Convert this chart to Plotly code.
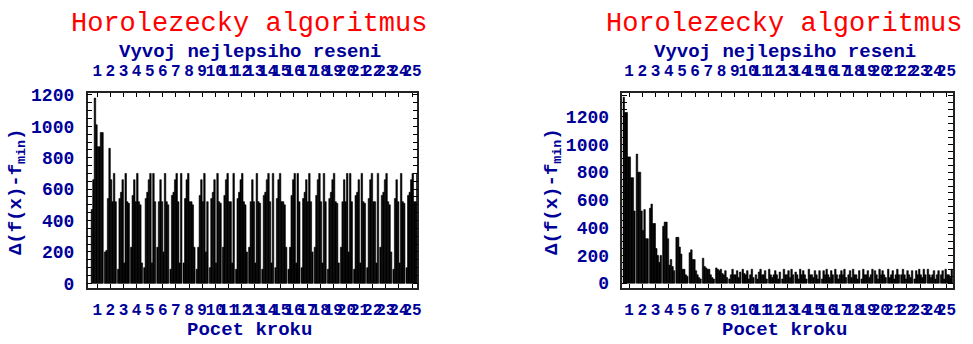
import plotly.graph_objects as go

steps = list(range(1, 26))
tick_labels = [str(s) for s in steps]

# left chart: 8 bars per step (series s1..s8)
left_s1 = [470,200,90,230,100,230,90,130,90,100,230,90,230,90,100,90,100,230,90,230,90,100,230,90,100]
left_s2 = [660,210,540,560,540,520,560,540,230,540,560,540,520,560,540,230,540,560,540,520,560,540,560,540,560]
left_s3 = [1180,540,580,660,580,660,580,660,560,580,660,580,660,580,660,560,580,660,580,660,580,660,580,660,580]
left_s4 = [1010,860,660,520,660,520,660,700,660,660,700,660,520,660,700,660,660,700,660,520,660,700,660,520,660]
left_s5 = [870,660,130,700,700,200,700,520,520,130,520,700,130,700,520,700,520,520,700,700,130,520,700,130,700]
left_s6 = [870,520,700,520,130,700,520,520,700,700,520,520,700,520,520,130,700,130,520,200,700,520,520,700,520]
left_s7 = [960,700,520,500,700,520,130,500,200,520,130,500,520,130,500,700,520,700,510,700,520,130,500,520,520]
left_s8 = [960,520,510,130,520,500,700,230,520,510,700,200,510,700,230,520,200,520,130,520,510,700,200,510,700]

# right chart
right_s1 = [1340,930,540,410,330,220,180,110,30,100,60,100,30,80,100,30,100,60,30,90,100,60,30,100,60]
right_s2 = [1230,800,570,440,330,240,120,100,60,70,30,60,100,60,60,90,60,90,100,60,40,100,90,60,90]
right_s3 = [1230,800,430,440,260,170,110,90,100,60,80,40,60,30,60,60,30,40,60,30,60,60,60,40,30]
right_s4 = [910,520,430,320,210,170,100,100,60,90,100,60,60,100,40,100,60,100,60,100,90,30,100,60,100]
right_s5 = [910,380,250,130,100,90,100,70,60,30,60,90,90,60,90,60,90,60,90,60,30,90,60,90,60]
right_s6 = [760,530,200,170,100,60,60,60,90,60,60,60,40,90,60,40,60,60,40,90,60,60,40,30,60]
right_s7 = [760,320,150,120,60,40,40,90,40,100,90,30,100,60,30,90,100,30,60,60,100,40,100,60,40]
right_s8 = [520,320,200,90,50,30,30,40,80,40,30,80,60,30,90,60,40,90,100,40,60,90,60,90,100]

left_series = [left_s1, left_s2, left_s3, left_s4, left_s5, left_s6, left_s7, left_s8]
right_series = [right_s1, right_s2, right_s3, right_s4, right_s5, right_s6, right_s7, right_s8]

title_text = "Horolezecky algoritmus"
subtitle_text = "Vyvoj nejlepsiho reseni"
xlabel_text = "Pocet kroku"
ylabel_text = "Δ(f(x)-f<sub>min</sub>)"

NAVY = "#000099"
MONO = "Liberation Mono, Courier New, monospace"

W, H = 973, 344
fig = go.Figure()

bar_marker = dict(color="black", line=dict(width=0.6, color="black"))
for s in left_series:
    fig.add_trace(go.Bar(x=steps, y=s, marker=bar_marker,
                         xaxis="x", yaxis="y", showlegend=False, hoverinfo="skip"))
for s in right_series:
    fig.add_trace(go.Bar(x=steps, y=s, marker=bar_marker,
                         xaxis="x2", yaxis="y2", showlegend=False, hoverinfo="skip"))
# dummy traces for top axes
fig.add_trace(go.Scatter(x=steps, y=[None]*25, xaxis="x3", yaxis="y", showlegend=False, hoverinfo="skip"))
fig.add_trace(go.Scatter(x=steps, y=[None]*25, xaxis="x4", yaxis="y2", showlegend=False, hoverinfo="skip"))

def px_x(p):
    return p / W

def px_y(p):
    return 1 - p / H

top, bottom = 90, 292.5
ydom = [px_y(bottom), px_y(top)]
L = (88, 419)
R = (625, 957)
lrange = [0.27, 25.4]
rrange = [0.5, 25.5]

tickfont = dict(family=MONO, size=16, color=NAVY, weight="bold")
ytickfont = dict(family=MONO, size=18, color=NAVY, weight="bold")

def xax(dom, rng, side="bottom", overlay=None, anchor=None):
    d = dict(domain=[px_x(dom[0]), px_x(dom[1])], range=rng, tickmode="array",
             tickvals=steps, ticktext=tick_labels, ticks="inside", ticklen=4,
             tickcolor="black", showline=True, linecolor="#222", linewidth=1.5,
             showgrid=False, zeroline=False, tickfont=tickfont, side=side,
             tickangle=0, ticklabelstandoff=(9 if side == "top" else 6), fixedrange=True)
    if overlay:
        d["overlaying"] = overlay
    if anchor:
        d["anchor"] = anchor
    if side == "bottom":
        d["mirror"] = True
    return d

def yax(rng, anchor):
    return dict(domain=ydom, range=rng, anchor=anchor, tickmode="linear", tick0=0, dtick=200,
                ticks="inside", ticklen=5, tickcolor="black",
                minor=dict(ticks="inside", ticklen=2, dtick=50, tickcolor="black", showgrid=False),
                showline=True, linecolor="#222", linewidth=1.5, mirror="allticks",
                showgrid=False, zeroline=False, tickfont=ytickfont, ticklabelstandoff=8,
                fixedrange=True)

fig.update_layout(
    width=W, height=H, margin=dict(l=0, r=0, t=0, b=0),
    paper_bgcolor="white", plot_bgcolor="white",
    barmode="group", bargap=0.08, bargroupgap=0,
    xaxis=xax(L, lrange, anchor="y"),
    yaxis=yax([-27, 1210], "x"),
    xaxis2=xax(R, rrange, anchor="y2"),
    yaxis2=yax([-32, 1368], "x2"),
    xaxis3=xax(L, lrange, side="top", overlay="x", anchor="y"),
    xaxis4=xax(R, rrange, side="top", overlay="x2", anchor="y2"),
)

ann = []
for cx, ycx in [(251, 17), (788, 555)]:
    ann.append(dict(x=px_x(cx - 1), y=px_y(18), xref="paper", yref="paper", text=title_text,
                    showarrow=False, xanchor="center", yanchor="middle",
                    font=dict(family=MONO, size=27, color="#ff0000")))
    ann.append(dict(x=px_x(cx), y=px_y(46.5), xref="paper", yref="paper", text=subtitle_text,
                    showarrow=False, xanchor="center", yanchor="middle",
                    font=dict(family=MONO, size=19, color=NAVY, weight="bold")))
    ann.append(dict(x=px_x(cx), y=px_y(337), xref="paper", yref="paper",
                    text=xlabel_text, showarrow=False, xanchor="center", yanchor="middle",
                    font=dict(family=MONO, size=19, color=NAVY, weight="bold")))
    ann.append(dict(x=px_x(ycx), y=px_y(192), xref="paper", yref="paper", text=ylabel_text,
                    showarrow=False, xanchor="center", yanchor="middle", textangle=-90,
                    font=dict(family=MONO, size=19, color=NAVY, weight="bold")))
fig.update_layout(annotations=ann)

fig.write_html("out.html")
